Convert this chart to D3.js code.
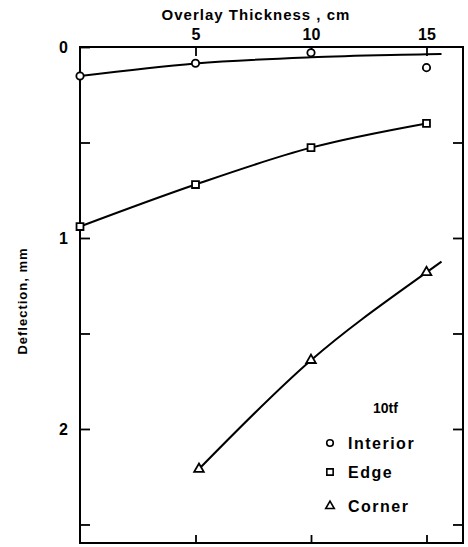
<!DOCTYPE html>
<html><head><meta charset="utf-8">
<script src="https://cdn.jsdelivr.net/npm/d3@7"></script>
<style>
body{margin:0;background:#fff;}
svg{display:block;}
text{font-family:"Liberation Sans",Arial,sans-serif;fill:#000;}
</style></head>
<body><svg id="c" width="468" height="547"></svg>
<script>
// Data
const thickness = [0, 5, 10, 15];
const interior = [0.152, 0.085, 0.030, 0.108];
const edgeThick = [0, 5, 10, 15];
const edge = [0.94, 0.72, 0.527, 0.40];
const cornerThick = [5.15, 10, 15];
const corner = [2.21, 1.64, 1.18];
// fitted curves drawn by hand on the original
const interiorFitX = [0, 5, 10, 15, 15.65];
const interiorFitY = [0.152, 0.086, 0.054, 0.038, 0.036];
const edgeFitX = [0, 5, 10, 15];
const edgeFitY = [0.94, 0.72, 0.527, 0.40];
const cornerFitX = [5.15, 10, 15, 15.65];
const cornerFitY = [2.21, 1.64, 1.18, 1.124];
const xTicks = [5, 10, 15];
const yTicks = [0, 0.5, 1, 1.5, 2, 2.5];
const yLabels = [0, 1, 2];
const legendItems = ["Interior", "Edge", "Corner"];

const svg = d3.select("#c");
const L = 80, R = 463, T = 47, B = 543;
const x = d3.scaleLinear().domain([0, 16.58]).range([L, R]);
const y = d3.scaleLinear().domain([0, 2.597]).range([T, B]);

// frame
svg.append("rect").attr("x", L).attr("y", T).attr("width", R - L).attr("height", B - T)
  .attr("fill", "none").attr("stroke", "#000").attr("stroke-width", 2);

function styleAxis(g) {
  g.select(".domain").remove();
  g.selectAll(".tick line").attr("stroke", "#000").attr("stroke-width", 1.8);
  g.selectAll(".tick text").attr("font-size", 16).attr("font-weight", "bold")
    .attr("font-family", "Liberation Sans, Arial, sans-serif").attr("fill", "#000");
}
svg.append("g").attr("transform", `translate(0,${T})`)
  .call(d3.axisTop(x).tickValues(xTicks).tickSize(-9).tickPadding(7).tickFormat(d3.format("d")))
  .call(styleAxis);
svg.append("g").attr("transform", `translate(0,${B})`)
  .call(d3.axisBottom(x).tickValues(xTicks).tickSize(-8).tickFormat(""))
  .call(styleAxis);
svg.append("g").attr("transform", `translate(${L},0)`)
  .call(d3.axisLeft(y).tickValues(yTicks).tickSize(-10).tickPadding(12)
    .tickFormat(d => yLabels.includes(d) ? d3.format("d")(d) : ""))
  .call(styleAxis);
svg.append("g").attr("transform", `translate(${R},0)`)
  .call(d3.axisRight(y).tickValues(yTicks.filter(d => d > 0)).tickSize(-10).tickFormat(""))
  .call(styleAxis);

// titles
svg.append("text").attr("x", 256).attr("y", 20).attr("text-anchor", "middle")
  .attr("font-size", 15).attr("font-weight", "bold").attr("letter-spacing", 1)
  .text("Overlay Thickness , cm");
svg.append("text").attr("transform", "translate(27,301) rotate(-90)").attr("text-anchor", "middle")
  .attr("font-size", 13).attr("font-weight", "bold").attr("letter-spacing", 1)
  .text("Deflection, mm");

// curves
const line = d3.line().curve(d3.curveMonotoneX).x(d => x(d[0])).y(d => y(d[1]));
const fits = [[interiorFitX, interiorFitY], [edgeFitX, edgeFitY], [cornerFitX, cornerFitY]];
fits.forEach(([xs, ys]) => {
  svg.append("path").datum(xs.map((v, i) => [v, ys[i]])).attr("d", line)
    .attr("fill", "none").attr("stroke", "#000").attr("stroke-width", 2);
});

// markers
const sym = [d3.symbolCircle, d3.symbolSquare, d3.symbolTriangle];
const sizes = [42, 48, 40];
const series = [[thickness, interior], [edgeThick, edge], [cornerThick, corner]];
series.forEach(([xs, ys], k) => {
  svg.append("g").selectAll("path").data(xs.map((v, i) => [v, ys[i]])).join("path")
    .attr("transform", d => `translate(${x(d[0])},${y(d[1])})`)
    .attr("d", d3.symbol().type(sym[k]).size(sizes[k]))
    .attr("fill", "#fff").attr("stroke", "#000").attr("stroke-width", 1.8);
});

// legend
svg.append("text").attr("x", 373).attr("y", 413).attr("font-size", 14).attr("font-weight", "bold")
  .text("10tf");
const ly = [443, 472, 506];
legendItems.forEach((name, k) => {
  svg.append("path").attr("transform", `translate(330,${ly[k]})`)
    .attr("d", d3.symbol().type(sym[k]).size(sizes[k] - 8))
    .attr("fill", "#fff").attr("stroke", "#000").attr("stroke-width", 1.6);
  svg.append("text").attr("x", 348).attr("y", ly[k] + 6).attr("font-size", 16)
    .attr("font-weight", "bold").attr("letter-spacing", 1.5).text(name);
});
</script></body></html>
